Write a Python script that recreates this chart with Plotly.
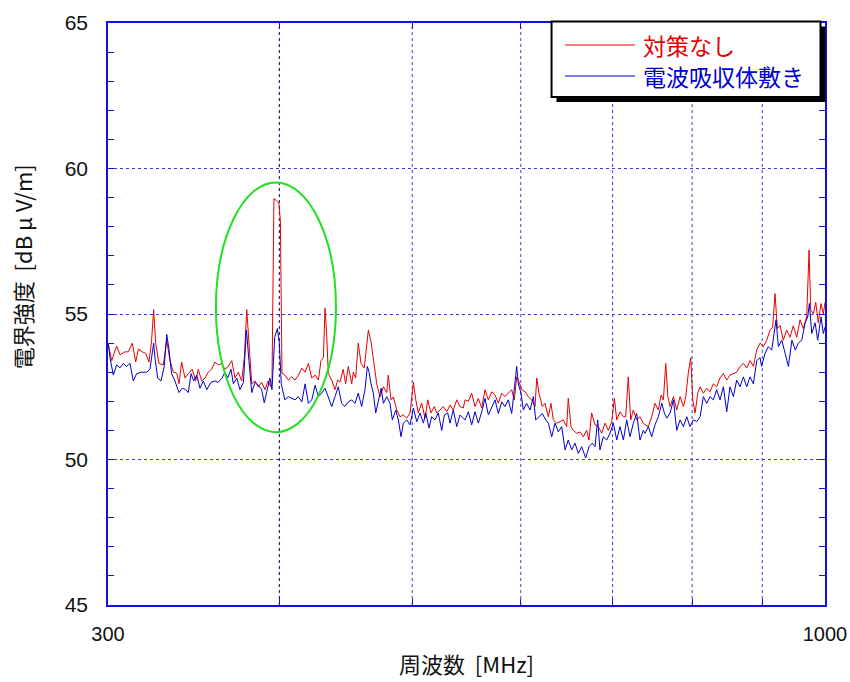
import plotly.graph_objects as go

# ---- data ----
freq_red = [300.1, 301.9, 304.4, 306.1, 308.7, 310.4, 312.5, 314.3, 315.7, 317.8, 319.6, 321.4, 322.8, 323.9, 325.0,
            326.8, 329.2, 331.1, 332.9, 334.8, 336.7, 338.0, 339.5, 341.4, 343.3, 345.6, 347.6, 349.1, 351.1, 353.1,
            355.0, 357.0, 359.0, 361.0, 363.1, 365.1, 367.2, 369.3, 371.3, 373.4, 375.5, 377.2, 378.7, 380.1, 381.9,
            384.0, 386.1, 388.3, 390.5, 392.6, 394.2, 395.1, 396.4, 398.0, 399.7, 400.7, 401.8,
            403.7, 406.1, 408.4, 410.7, 413.0, 415.4, 417.7, 420.0, 422.4, 424.8, 427.1, 429.0, 430.7, 431.9, 433.1,
            434.3, 436.8, 439.2, 441.2, 442.9, 445.3, 447.1, 449.1, 451.7, 452.9, 454.7, 456.7, 458.8, 461.3, 463.2,
            464.5, 466.6, 468.4, 471.1, 473.7, 476.4, 479.1, 480.3, 482.5, 484.4, 487.2, 489.9, 492.6, 495.4, 498.2,
            501.0, 503.0, 505.1, 508.0, 510.9, 513.2, 516.0, 518.9, 521.0, 523.9, 526.8, 529.8, 532.8, 535.7, 538.8,
            541.8, 544.8,
            546.4, 549.4, 552.5, 555.6, 558.7, 561.9, 565.0, 568.2, 571.4, 574.6, 577.8, 581.1, 584.3, 587.5, 590.9,
            593.5, 595.9, 598.2, 600.9, 604.3, 607.6, 611.1, 614.5, 616.3, 618.6, 622.1, 624.9, 628.4, 631.2, 633.7,
            637.3, 640.9, 644.4, 648.1, 649.8, 652.8, 655.3, 659.1, 662.7, 666.4, 670.2, 672.8, 675.8, 679.6, 683.4,
            687.3, 691.2, 695.0, 699.0, 702.1, 704.9, 708.8, 712.8, 715.6, 718.7, 721.6, 724.8, 728.9, 733.0, 737.1,
            739.2, 743.3, 747.5, 751.7, 755.9, 759.4, 762.3, 765.4, 768.0, 771.0, 775.3, 779.6, 784.0, 788.4, 791.5,
            795.0, 798.2, 800.9, 804.0, 807.6, 810.8, 815.2, 819.9, 824.4, 829.0, 833.7, 838.4, 843.1, 847.9, 852.6,
            857.4, 862.2, 867.0, 871.9, 876.8, 881.7, 886.7, 891.7, 896.7, 901.7, 906.8, 911.8, 915.9, 919.5, 923.1,
            927.3, 932.4, 937.7, 942.9, 948.2, 953.6, 959.0, 964.3, 969.7, 973.6, 976.3, 980.6, 984.6, 988.8, 993.3,
            997.2, 1000.0]
red = [53.98, 53.4, 53.9, 53.6, 53.7, 53.7, 54.0, 53.35, 53.8, 53.7, 53.65, 53.35, 54.1, 55.15, 54.0,
       53.3, 53.25, 54.1, 53.4, 53.0, 52.97, 52.6, 53.35, 52.8, 52.95, 53.1, 52.7, 53.1, 52.7, 52.8,
       53.0, 53.1, 53.35, 53.25, 53.3, 53.1, 53.2, 53.4, 52.8, 53.0, 52.7, 53.5, 55.15, 54.0, 52.6,
       52.7, 52.5, 52.65, 52.4, 52.7, 52.5, 52.6, 58.97, 58.9, 58.82, 58.2, 52.97,
       52.9, 52.73, 52.84, 52.73, 52.9, 53.14, 53.0, 53.3, 52.8, 52.9, 52.73, 53.4, 53.5, 55.2, 54.3,
       52.95, 52.73, 52.4, 52.73, 52.66, 53.1, 52.6, 53.2, 52.6, 53.0, 52.8, 54.0, 53.3, 53.14, 54.04,
       54.45, 54.04, 53.4, 52.6, 52.15, 52.5, 52.3, 52.9, 52.05, 52.15, 51.7, 51.47, 51.53, 51.42, 51.6,
       52.66, 52.05, 51.6, 51.94, 51.42, 52.05, 51.6, 51.82, 51.6, 51.7, 51.82, 51.64, 51.87, 51.7, 52.05,
       51.82, 51.77,
       52.05, 52.0, 52.28, 51.82, 52.1, 51.77, 52.4, 52.05, 52.33, 52.22, 51.93, 52.28, 52.16, 52.28, 52.4,
       52.05, 52.84, 52.67, 52.4, 52.33, 52.16, 52.05, 51.82, 52.8, 52.28, 51.82, 51.93, 51.47, 51.93, 51.36,
       51.25, 51.3, 51.36, 51.13, 52.1, 51.13, 51.0, 50.9, 50.95, 50.78, 51.0, 50.67, 51.6, 51.19, 51.13,
       50.9, 51.25, 51.0, 51.3, 52.1, 51.36, 51.64, 51.47, 51.47, 52.84, 51.36, 51.7, 51.36, 51.47, 51.25,
       51.19, 51.13, 51.47, 51.93, 51.7, 52.22, 52.05, 53.3, 52.16, 51.82, 52.16, 51.7, 52.16, 51.82, 52.16,
       53.0, 53.5, 52.05, 51.6, 52.28, 52.5, 52.28, 52.45, 52.33, 52.6, 52.5, 52.8, 52.95, 52.73, 52.9,
       52.95, 53.0, 53.2, 53.3, 53.14, 53.4, 53.2, 53.76, 54.0, 53.88, 54.1, 54.45, 54.55, 55.7, 54.5,
       54.6, 54.1, 54.45, 54.2, 54.6, 54.2, 54.8, 54.5, 54.9, 57.2, 55.14, 55.0, 55.4, 54.7, 55.36,
       55.0, 55.4]

freq_blue = [300.1, 301.0, 302.7, 304.4, 306.1, 307.8, 309.5, 311.3, 313.0, 314.8, 317.5, 320.1, 321.9, 322.8, 323.9,
             324.6, 326.1, 327.9, 329.7, 331.1, 332.3, 333.8, 335.7, 338.0, 339.8, 341.8, 343.3, 344.9, 346.4, 348.2,
             350.1, 352.1, 354.1, 356.6, 359.0, 361.0, 363.4, 365.1, 366.8, 368.8, 370.3, 372.4, 374.4, 376.6, 378.5,
             380.1, 381.9, 384.0, 386.1, 388.3, 390.0, 392.2, 393.7, 395.1, 396.9, 398.7, 400.0, 401.3,
             403.7, 406.1, 408.4, 410.7, 413.0, 415.4, 417.7, 420.0, 422.4, 424.8, 427.1, 429.5, 431.9, 434.3, 436.8,
             439.2, 441.6, 444.1, 446.6, 449.1, 451.7, 454.2, 456.7, 459.3, 461.9, 463.7, 465.0, 466.6, 468.4, 470.3,
             472.4, 474.6, 476.4, 479.1, 481.7, 483.6, 486.4, 488.5, 490.7, 492.6, 495.4, 498.2, 501.0, 503.8, 506.6,
             509.5, 511.5, 514.3, 516.6, 519.5, 522.4, 525.4, 527.7, 530.7, 532.8, 535.7, 538.8, 541.8, 544.8,
             546.4, 549.4, 552.5, 555.6, 558.7, 561.9, 565.0, 568.2, 571.4, 574.6, 577.8, 581.1, 584.3, 587.5, 590.9,
             593.5, 595.9, 597.5, 600.2, 602.6, 605.9, 609.4, 612.8, 615.2, 618.6, 622.1, 625.6, 628.4, 632.0, 635.5,
             639.0, 642.7, 646.3, 649.8, 653.5, 657.2, 660.8, 664.6, 669.1, 672.8, 676.5, 679.6, 682.7, 685.3, 689.2,
             693.1, 697.0, 700.9, 704.9, 708.8, 712.8, 716.8, 720.8, 724.8, 728.9, 733.0, 737.1,
             739.2, 743.3, 747.5, 751.7, 755.9, 760.3, 763.6, 766.7, 771.0, 775.3, 779.6, 784.0, 788.4, 792.8, 797.2,
             801.7, 806.2, 810.8, 815.2, 819.9, 824.4, 829.0, 833.7, 838.4, 843.1, 847.9, 852.6, 857.4, 862.2, 867.0,
             871.9, 876.8, 881.7, 886.7, 891.7, 896.7, 899.0, 904.3, 909.2, 914.4, 918.0, 921.1, 924.7, 930.0, 935.2,
             940.4, 945.9, 951.3, 956.2, 961.7, 967.2, 971.4, 974.1, 978.0, 983.5, 987.8, 993.3, 997.2, 1000.0]
blue = [54.0, 53.5, 52.9, 53.25, 53.15, 53.3, 53.2, 53.3, 52.7, 52.95, 53.0, 53.0, 53.1, 53.6, 54.0,
        53.5, 52.8, 52.7, 53.2, 54.3, 53.8, 52.95, 52.7, 52.3, 52.45, 52.4, 52.3, 52.95, 52.7, 52.9,
        52.45, 52.7, 52.4, 52.65, 52.7, 52.65, 52.8, 53.0, 52.8, 53.1, 52.6, 52.8, 52.4, 52.65, 54.45,
        53.4, 52.3, 52.65, 52.55, 52.4, 51.95, 52.45, 52.8, 52.4, 54.2, 54.5, 54.0, 52.6,
        52.05, 52.16, 52.1, 52.05, 52.16, 51.98, 52.6, 51.93, 52.05, 52.55, 52.16, 52.28, 52.45, 52.16, 51.82,
        52.16, 52.5, 51.93, 51.82, 51.98, 52.05, 51.93, 52.28, 51.82, 52.4, 53.2, 53.02, 52.6, 52.28, 51.6,
        52.05, 52.45, 51.93, 52.16, 51.93, 51.36, 51.7, 51.36, 50.78, 51.25, 51.36, 51.19, 51.77, 51.3, 51.6,
        51.25, 51.6, 51.08, 51.47, 51.36, 51.6, 51.0, 51.53, 51.6, 51.25, 51.7, 51.13, 51.53, 51.42,
        51.36, 51.64, 51.19, 51.64, 51.25, 51.64, 52.1, 51.53, 51.82, 52.05, 51.58, 51.98, 51.82, 52.05, 51.58,
        52.4, 53.2, 52.6, 52.28, 51.7, 51.93, 51.7, 52.16, 51.36, 51.47, 51.58, 51.36, 51.25, 50.78, 51.25,
        50.95, 51.13, 50.33, 50.67, 50.33, 50.56, 50.21, 50.44, 50.05, 50.44, 50.56, 50.44, 51.36, 50.33, 50.78,
        50.67, 50.9, 51.25, 50.67, 51.13, 50.67, 51.36, 50.78, 51.25, 51.58, 50.67, 51.0,
        50.9, 51.13, 50.78, 51.19, 51.47, 51.93, 51.6, 51.42, 51.6, 52.05, 51.0, 51.36, 51.13, 51.47, 51.13,
        51.36, 51.3, 51.47, 52.16, 51.93, 52.16, 52.05, 52.4, 52.05, 52.5, 51.64, 52.5, 52.16, 52.73, 52.5,
        52.84, 52.5, 52.84, 52.6, 53.4, 53.5, 53.2, 53.65, 53.88, 53.76, 54.33, 54.8, 53.88, 54.1, 53.65,
        53.2, 54.1, 53.76, 54.0, 54.1, 54.7, 54.9, 55.36, 54.33, 54.7, 54.1, 54.9, 54.33, 54.55]

x_ticks = [300, 400, 500, 600, 700, 800, 900, 1000]
x_tick_text = ["300", "", "", "", "", "", "", "1000"]
x_grid = [500, 600, 700, 800, 900]
x_marker = 400
y_ticks = [45, 50, 55, 60, 65]
series_names = ["対策なし", "電波吸収体敷き"]
y_title = "電界強度  [dB μ V/m]"
x_title = "周波数  [MHz]"

RED = "#e60000"
BLUE = "#0000d0"
AX = "#1010e0"
GRID = "#3a3ae6"
JP = "Noto Sans CJK JP, Liberation Sans, sans-serif"
NUM = "Liberation Sans, Arial, sans-serif"

fig = go.Figure()
fig.add_trace(go.Scatter(x=freq_red, y=red, mode="lines", name=series_names[0],
                         line=dict(color=RED, width=1), showlegend=False))
fig.add_trace(go.Scatter(x=freq_blue, y=blue, mode="lines", name=series_names[1],
                         line=dict(color=BLUE, width=1), showlegend=False))

fig.update_layout(
    width=850, height=682,
    margin=dict(l=108, r=25, t=23, b=77),
    paper_bgcolor="white", plot_bgcolor="white",
    font=dict(family=NUM, size=20, color="#111111"),
    xaxis=dict(type="log", range=[2.47712, 3.0], tickvals=x_ticks, ticktext=x_tick_text,
               showline=True, linecolor=AX, linewidth=1.5, mirror="ticks",
               ticks="inside", ticklen=6, tickcolor=AX, tickwidth=1,
               showgrid=False, automargin=False,
               zeroline=False, ticklabelstandoff=10,
               tickfont=dict(family=NUM, size=20, color="#111111")),
    yaxis=dict(range=[45, 65], tickvals=y_ticks,
               showline=True, linecolor=AX, linewidth=1.5, mirror="ticks",
               ticks="inside", ticklen=6, tickcolor=AX, tickwidth=1,
               minor=dict(dtick=1, ticks="inside", ticklen=6, tickcolor=AX, showgrid=False),
               showgrid=True, gridcolor=GRID, griddash="dot", gridwidth=1,
               zeroline=False, ticklabelstandoff=14, automargin=False,
               tickfont=dict(family=NUM, size=21, color="#111111")),
)

shapes = []
# vertical dotted grid lines
for gx in x_grid:
    shapes.append(dict(type="line", xref="x", yref="paper", x0=gx, x1=gx, y0=0, y1=1,
                       line=dict(color=GRID, width=1, dash="dot"), layer="below"))
# darker marker line at 400 MHz
shapes.append(dict(type="line", xref="x", yref="paper", x0=x_marker, x1=x_marker, y0=0, y1=1,
                   line=dict(color="#000050", width=1, dash="dot"), layer="below"))
# green ellipse around the peak
shapes.append(dict(type="circle", xref="x", yref="y", x0=359.6, x1=439.9, y0=50.94, y1=59.52,
                   line=dict(color="#22e022", width=2)))
# legend box with shadow
shapes.append(dict(type="rect", xref="paper", yref="paper", x0=0.6255, x1=1.0007, y0=0.8643, y1=0.9940,
                   fillcolor="black", line=dict(color="black", width=0)))
shapes.append(dict(type="rect", xref="paper", yref="paper", x0=0.6186, x1=0.9937, y0=0.8729, y1=1.0026,
                   fillcolor="white", line=dict(color="black", width=2)))
shapes.append(dict(type="line", xref="paper", yref="paper", x0=0.6374, x1=0.7350, y0=0.9622, y1=0.9622,
                   line=dict(color=RED, width=1)))
shapes.append(dict(type="line", xref="paper", yref="paper", x0=0.6374, x1=0.7350, y0=0.9089, y1=0.9089,
                   line=dict(color=BLUE, width=1)))
fig.update_layout(shapes=shapes)

ann = [
    dict(text=series_names[0], xref="paper", yref="paper", x=0.7448, y=0.9622, xanchor="left", yanchor="middle",
         showarrow=False, borderpad=0, font=dict(family=JP, size=23, color=RED)),
    dict(text=series_names[1], xref="paper", yref="paper", x=0.7448, y=0.9089, xanchor="left", yanchor="middle",
         showarrow=False, borderpad=0, font=dict(family=JP, size=23, color=BLUE)),
    dict(text=y_title, xref="paper", yref="paper", x=-0.12, y=0.582, xanchor="center", yanchor="middle",
         textangle=-90, showarrow=False, font=dict(family=JP, size=22, color="#111111")),
    dict(text=x_title, xref="paper", yref="paper", x=0.5, y=-0.0997, xanchor="center", yanchor="middle",
         showarrow=False, font=dict(family=JP, size=22, color="#111111")),
]
fig.update_layout(annotations=ann)

# remove the browser's default 8px body margin so the figure fills the window exactly
fig.write_html("out.html", config={"displayModeBar": False},
               post_script="document.body.style.margin='0';document.body.style.overflow='hidden';")
